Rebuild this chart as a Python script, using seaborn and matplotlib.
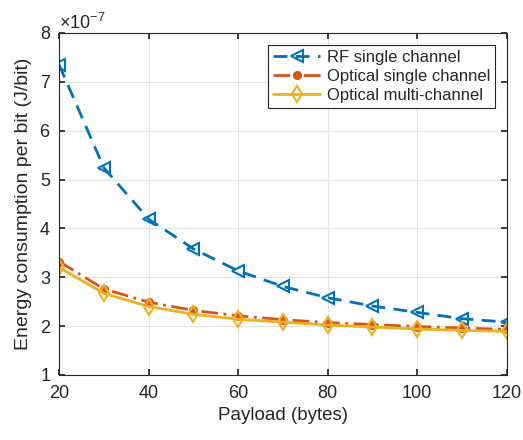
import matplotlib
matplotlib.use("Agg")
import matplotlib.pyplot as plt
import matplotlib.ticker as mticker
import pandas as pd
import seaborn as sns

# values (J/bit, scaled by 1e-7)
payload = [20, 30, 40, 50, 60, 70, 80, 90, 100, 110, 120]
rf_single = [7.35, 5.24, 4.19, 3.58, 3.13, 2.81, 2.58, 2.41, 2.28, 2.15, 2.08]
opt_single = [3.32, 2.76, 2.49, 2.32, 2.21, 2.13, 2.07, 2.03, 1.99, 1.96, 1.93]
opt_multi = [3.20, 2.67, 2.40, 2.24, 2.14, 2.08, 2.02, 1.98, 1.94, 1.91, 1.89]
labels = ["RF single channel", "Optical single channel", "Optical multi-channel"]

df = pd.DataFrame({"payload": payload * 3,
                   "energy": [v * 1e-7 for v in rf_single + opt_single + opt_multi],
                   "series": [labels[0]] * 11 + [labels[1]] * 11 + [labels[2]] * 11})

sns.set_theme(style="ticks")
plt.rcParams["font.family"] = ["Liberation Sans", "DejaVu Sans"]
plt.rcParams["mathtext.fontset"] = "custom"
plt.rcParams["mathtext.rm"] = "Liberation Sans"

fig = plt.figure(figsize=(5.23, 4.4), dpi=100)
ax = fig.add_axes([0.113, 0.148, 0.856, 0.777])

styles = {
    labels[0]: dict(color="#0072BD", linestyle=(0, (5, 3)), marker="<", mfc="none", ms=8, mew=1.5),
    labels[1]: dict(color="#D95319", linestyle=(0, (6, 2, 1, 2)), marker="o", mfc="#D95319", ms=5, mew=1.5),
    labels[2]: dict(color="#EDB120", linestyle="-", marker="d", mfc="none", ms=8, mew=1.5),
}
for name in labels:
    st = styles[name]
    sns.lineplot(data=df[df["series"] == name], x="payload", y="energy", ax=ax,
                 color=st["color"], linestyle=st["linestyle"], linewidth=2,
                 marker=st["marker"], markerfacecolor=st["mfc"], markeredgecolor=st["color"],
                 markersize=st["ms"], markeredgewidth=st["mew"], label=name)

ax.set_xlim(20, 120)
ax.set_ylim(1e-7, 8e-7)
ax.set_xticks([20, 40, 60, 80, 100, 120])
ax.set_yticks([i * 1e-7 for i in range(1, 9)])
fmt = mticker.ScalarFormatter(useMathText=True)
fmt.set_powerlimits((0, 0))
ax.yaxis.set_major_formatter(fmt)
ax.yaxis.get_offset_text().set_fontsize(13)
ax.grid(True, color="#e3e3e3", linewidth=0.8)
ax.tick_params(direction="in", labelsize=13, color="#262626", top=True, right=True, length=4)
ax.tick_params(axis="x", pad=7)
ax.tick_params(axis="y", pad=6)
for s in ax.spines.values():
    s.set_color("#262626")
    s.set_linewidth(0.8)
ax.set_xlabel("Payload (bytes)", fontsize=13.5)
ax.set_ylabel("Energy consumption per bit (J/bit)", fontsize=14, labelpad=5)

leg = ax.legend(loc="upper right", fontsize=12, frameon=True, fancybox=False,
                edgecolor="#262626", framealpha=1, handlelength=2.8,
                borderaxespad=0.7, borderpad=0.3, labelspacing=0.25, handletextpad=0.4)
leg.get_frame().set_linewidth(0.8)

fig.savefig("out.png", dpi=100)
